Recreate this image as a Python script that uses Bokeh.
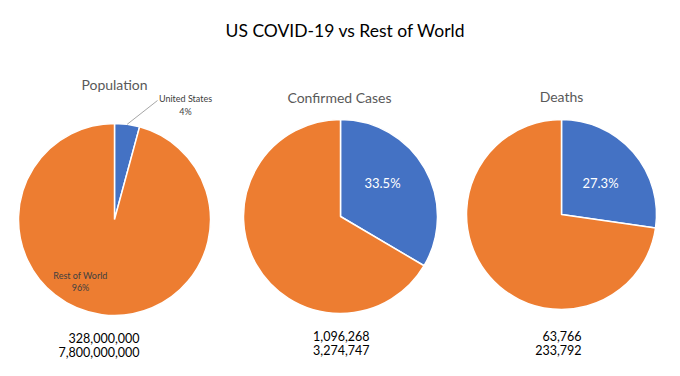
import math
from bokeh.plotting import figure
from bokeh.models import Range1d, ColumnDataSource
from bokeh.core.properties import value
from bokeh.embed import file_html
from bokeh.resources import INLINE

# ---- data ----
panels = ["Population", "Confirmed Cases", "Deaths"]
us_values = [328000000, 1096268, 63766]
world_values = [7800000000, 3274747, 233792]
us_label = "United States"
rest_label = "Rest of World"

BLUE = "#4472C4"
ORANGE = "#ED7D31"
FONT = "Lato"

W, H = 664, 360
p = figure(width=W, height=H, output_backend="svg", toolbar_location=None,
           x_range=Range1d(0, W), y_range=Range1d(0, H),
           min_border=0, outline_line_color=None)
p.axis.visible = False
p.grid.visible = False
p.background_fill_color = "white"
p.border_fill_color = "white"

def Y(img_y):  # picture-pixel y to data y
    return H - img_y

# layout (positions only)
centers = [(114, 219, 96), (340, 216, 97), (561, 214, 95)]
title_pos = [(114, 84), (339, 97), (561, 96)]
num_right = [139, 369, 581]
num_y = [(337, 351), (335, 349), (335, 349)]

p.text(x=[345], y=[Y(30)], text=["US COVID-19 vs Rest of World"],
       text_font=value(FONT), text_font_size="17.5px", text_color="#000000",
       text_align="center", text_baseline="middle")

for i, name in enumerate(panels):
    cx, cy, r = centers[i]
    f = us_values[i] / world_values[i]
    top = math.pi / 2
    us_start = top - 2 * math.pi * f
    src = ColumnDataSource(dict(
        x=[cx, cx], y=[Y(cy), Y(cy)],
        start=[us_start, top],
        end=[top, us_start + 2 * math.pi],
        color=[BLUE, ORANGE]))
    p.wedge(x="x", y="y", radius=r, start_angle="start", end_angle="end",
            direction="anticlock", fill_color="color", line_color="white",
            line_width=1.5, source=src)

    tx, ty = title_pos[i]
    p.text(x=[tx], y=[Y(ty)], text=[name], text_font=value(FONT),
           text_font_size="14px", text_color="#595959",
           text_align="center", text_baseline="middle")

    ny1, ny2 = num_y[i]
    p.text(x=[num_right[i], num_right[i]], y=[Y(ny1), Y(ny2)],
           text=[f"{us_values[i]:,}", f"{world_values[i]:,}"],
           text_font=value(FONT), text_font_size="12.5px", text_color="#000000",
           text_align="right", text_baseline="middle")

    if i == 0:
        mid = top - math.pi * f
        x0 = cx + r * math.cos(mid)
        y0 = Y(cy) + r * math.sin(mid)
        p.line(x=[x0, 157], y=[y0, Y(100)], line_color="#A6A6A6", line_width=1)
        p.text(x=[185, 185], y=[Y(98), Y(111)],
               text=[us_label, f"{round(100 * f)}%"],
               text_font=value(FONT), text_font_size="9px", text_color="#404040",
               text_align="center", text_baseline="middle")
        p.text(x=[80, 80], y=[Y(275), Y(287)],
               text=[rest_label, f"{round(100 * (1 - f))}%"],
               text_font=value(FONT), text_font_size="9px", text_color="#404040",
               text_align="center", text_baseline="middle")
    else:
        p.text(x=[cx + 42 if i == 1 else cx + 39], y=[Y(182)],
               text=[f"{100 * f:.1f}%"], text_font=value(FONT),
               text_font_size="13px", text_color="white",
               text_align="center", text_baseline="middle")

open("out.html", "w").write(file_html(p, INLINE))
